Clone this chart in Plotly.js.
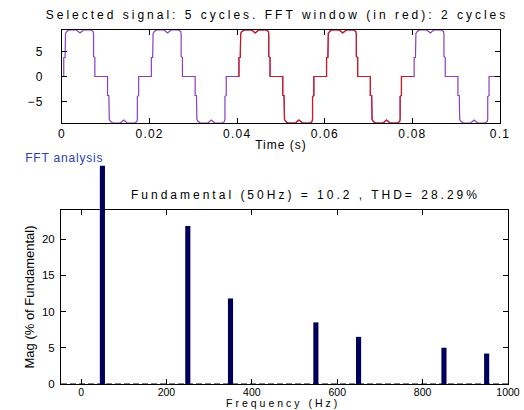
<!DOCTYPE html>
<html><head><meta charset="utf-8">
<script src="https://cdn.plot.ly/plotly-3.0.1.min.js"></script>
<style>
html,body{margin:0;padding:0;background:#fff;}
#chart{width:524px;height:410px;}
.gtitle{letter-spacing:3px;}
.annotation-text{letter-spacing:3px;}
g.annotation[data-index="0"] .annotation-text{letter-spacing:0.8px;}
.subplot.x2y2 .xtick text,.subplot.x2y2 .ytick text{letter-spacing:2.8px;}
.subplot.xy .xtick text,.subplot.xy .ytick text{letter-spacing:1.2px;}
.xtitle{letter-spacing:1px;}
</style></head><body><div id="chart"></div><script>
// Selected signal (time in ms, value)
const time_ms = [
 0, 0.4,0.4,0.7,0.8,1.1,1.6,3.3,4.1,4.9,6.6,7.1,7.2,7.2,7.5,7.5,10.4,10.4,10.7,10.8,11.1,11.6,13.3,14.1,14.9,16.6,17.1,17.2,17.2,17.5,17.5,
 20, 20.4,20.4,20.7,20.8,21.1,21.6,23.3,24.1,24.9,26.6,27.1,27.2,27.2,27.5,27.5,30.4,30.4,30.7,30.8,31.1,31.6,33.3,34.1,34.9,36.6,37.1,37.2,37.2,37.5,37.5,
 40, 40.4,40.4,40.7,40.8,41.1,41.6,43.3,44.1,44.9,46.6,47.1,47.2,47.2,47.5,47.5,50.4,50.4,50.7,50.8,51.1,51.6,53.3,54.1,54.9,56.6,57.1,57.2,57.2,57.5,57.5,
 60, 60.4,60.4,60.7,60.8,61.1,61.6,63.3,64.1,64.9,66.6,67.1,67.2,67.2,67.5,67.5,70.4,70.4,70.7,70.8,71.1,71.6,73.3,74.1,74.9,76.6,77.1,77.2,77.2,77.5,77.5,
 80, 80.4,80.4,80.7,80.8,81.1,81.6,83.3,84.1,84.9,86.6,87.1,87.2,87.2,87.5,87.5,90.4,90.4,90.7,90.8,91.1,91.6,93.3,94.1,94.9,96.6,97.1,97.2,97.2,97.5,97.5,
 100
];
const signal = [
 0, 0,3.8,3.8,8.6,9.0,9.3,9.3,8.7,9.3,9.3,9.0,8.5,4.0,3.8,0,0,-3.8,-3.8,-8.6,-9.0,-9.3,-9.3,-8.7,-9.3,-9.3,-9.0,-8.5,-4.0,-3.8,0,
 0, 0,3.8,3.8,8.6,9.0,9.3,9.3,8.7,9.3,9.3,9.0,8.5,4.0,3.8,0,0,-3.8,-3.8,-8.6,-9.0,-9.3,-9.3,-8.7,-9.3,-9.3,-9.0,-8.5,-4.0,-3.8,0,
 0, 0,3.8,3.8,8.6,9.0,9.3,9.3,8.7,9.3,9.3,9.0,8.5,4.0,3.8,0,0,-3.8,-3.8,-8.6,-9.0,-9.3,-9.3,-8.7,-9.3,-9.3,-9.0,-8.5,-4.0,-3.8,0,
 0, 0,3.8,3.8,8.6,9.0,9.3,9.3,8.7,9.3,9.3,9.0,8.5,4.0,3.8,0,0,-3.8,-3.8,-8.6,-9.0,-9.3,-9.3,-8.7,-9.3,-9.3,-9.0,-8.5,-4.0,-3.8,0,
 0, 0,3.8,3.8,8.6,9.0,9.3,9.3,8.7,9.3,9.3,9.0,8.5,4.0,3.8,0,0,-3.8,-3.8,-8.6,-9.0,-9.3,-9.3,-8.7,-9.3,-9.3,-9.0,-8.5,-4.0,-3.8,0,
 0
];
const windowStart_ms = 40, windowEnd_ms = 80;

// FFT analysis
const harmonicFreqHz = [50, 250, 350, 550, 650, 850, 950];
// fundamental bar drawn to its visible (clipped) height
const harmonicMagPct = [30.1, 21.8, 11.8, 8.5, 6.5, 5.0, 4.2];

const xTickVals = [0, 0.02, 0.04, 0.06, 0.08, 0.1];
const xTickText = ["0", "0.02", "0.04", "0.06", "0.08", "0.1"];

const tS = time_ms.map(t => t / 1000);
const winT = [], winV = [];
time_ms.forEach((t, i) => { if (t >= windowStart_ms && t <= windowEnd_ms) { winT.push(t / 1000); winV.push(signal[i]); } });

const F = 'Liberation Sans, Arial, sans-serif';
const tickFont = {family: F, size: 12, color: '#000'};

// pixel geometry of the lower axes (used for an invisible taller overlay axis so the
// fundamental bar can extend above the plot box, as in the reference)
const magTop = 24, lowBottomPx = 384, lowTopPx = 210, barTopPx = 160;
const overlayRange = magTop * (lowBottomPx - barTopPx) / (lowBottomPx - lowTopPx);

const traces = [
 {type:'scatter', mode:'lines', x:tS, y:signal, xaxis:'x', yaxis:'y',
  line:{color:'#8a3fc0', width:1.2}, hoverinfo:'skip', showlegend:false},
 {type:'scatter', mode:'lines', x:winT, y:winV, xaxis:'x', yaxis:'y',
  line:{color:'#d11a1a', width:1.2}, hoverinfo:'skip', showlegend:false},
 {type:'bar', x:harmonicFreqHz, y:harmonicMagPct, xaxis:'x2', yaxis:'y3', width:12,
  marker:{color:'#00005c', line:{width:0}}, showlegend:false}
];

const axBase = {showgrid:false, zeroline:false, showline:true, linecolor:'#000', linewidth:1,
  ticks:'inside', ticklen:5, tickcolor:'#000', mirror:'ticks', tickfont:tickFont};

const layout = {
 width:524, height:410, margin:{l:0,r:0,t:0,b:0},
 paper_bgcolor:'#fff', plot_bgcolor:'rgba(0,0,0,0)', showlegend:false,
 title:{text:'Selected signal: 5 cycles. FFT window (in red): 2 cycles',
   font:{family:F, size:12, color:'#000'}, x:277/524, xanchor:'center', y:1-15/410, yanchor:'middle'},
 xaxis:Object.assign({}, axBase, {domain:[62/524, 500/524], anchor:'y', range:[0,0.1],
   tickvals:xTickVals, ticktext:xTickText,
   title:{text:'Time (s)', font:{family:F,size:12,color:'#000'}, standoff:0}}),
 yaxis:Object.assign({}, axBase, {domain:[1-123/410, 1-30/410], anchor:'x', range:[-9.3,9.3],
   tickvals:[-5,0,5], ticklabelstandoff:15}),
 xaxis2:Object.assign({}, axBase, {domain:[61/524, 508/524], anchor:'y2', range:[-47,1000],
   tick0:0, dtick:200, ticklabelstandoff:-2, tickfont:{family:F, size:10.5, color:'#000'}}),
 yaxis2:Object.assign({}, axBase, {domain:[1-lowBottomPx/410, 1-lowTopPx/410], anchor:'x2', range:[0,magTop],
   tick0:0, dtick:5, ticklabelstandoff:3, tickfont:{family:F, size:11.5, color:'#000'},
   title:{text:'Mag (% of Fundamental)', font:{family:'Liberation Sans Narrow, Arial Narrow, sans-serif', size:13, color:'#000'}, standoff:4}}),
 yaxis3:{domain:[1-lowBottomPx/410, 1-barTopPx/410], anchor:'x2', range:[0, overlayRange],
   visible:false, showgrid:false, zeroline:false, fixedrange:true},
 shapes:[{type:'line', xref:'x2 domain', yref:'y2', x0:0, x1:1, y0:0, y1:0, layer:'below',
   line:{color:'#000', width:1, dash:'6px,3px'}}],
 annotations:[
  {text:'FFT analysis', xref:'paper', yref:'paper', x:10/524, y:1-158/410, xanchor:'left', yanchor:'middle',
   showarrow:false, font:{family:F, size:12, color:'#2a40b0'}},
  {text:'Fundamental (50Hz) = 10.2 , THD= 28.29%', xref:'paper', yref:'paper', x:305/524, y:1-195/410,
   xanchor:'center', yanchor:'middle', showarrow:false, font:{family:F, size:12, color:'#000'}},
  {text:'Frequency (Hz)', xref:'paper', yref:'paper', x:283/524, y:0, xanchor:'center', yanchor:'bottom',
   showarrow:false, borderpad:0, font:{family:F, size:10.5, color:'#000'}}
 ]
};

Plotly.newPlot('chart', traces, layout, {staticPlot:true, displayModeBar:false});
</script></body></html>
